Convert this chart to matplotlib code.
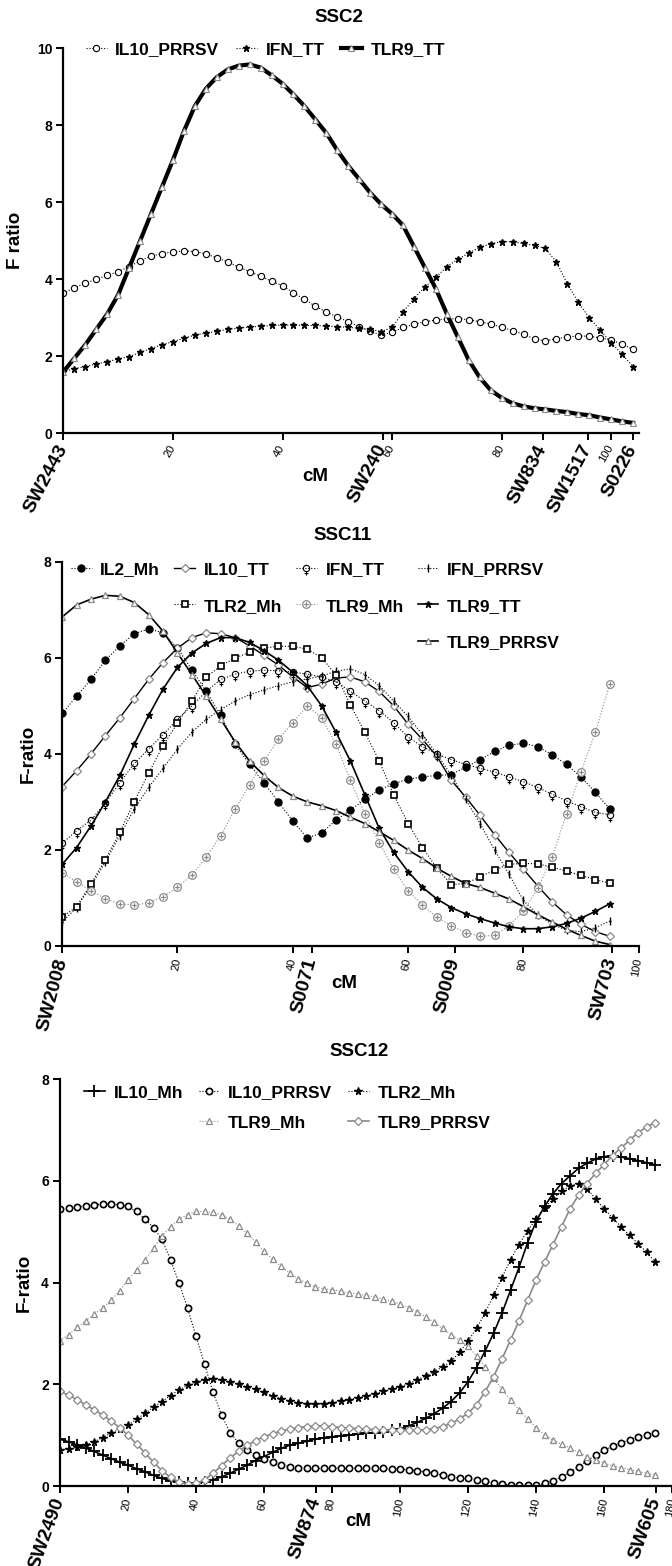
import matplotlib
matplotlib.use('Agg')
import matplotlib.pyplot as plt
from matplotlib.path import Path
from matplotlib.lines import Line2D

plt.rcParams['font.family'] = ['Liberation Sans', 'DejaVu Sans']
plt.rcParams['font.weight'] = 'bold'

# ---------------- SSC2 ----------------
ssc2_cm = list(range(0, 105, 2))
ssc2_il10_prrsv = [3.64, 3.78, 3.9, 4.0, 4.1, 4.2, 4.33, 4.48, 4.6, 4.67,
                   4.71, 4.74, 4.72, 4.66, 4.56, 4.45, 4.32, 4.2, 4.08, 3.95,
                   3.83, 3.65, 3.48, 3.3, 3.15, 3.02, 2.9, 2.77, 2.65, 2.55,
                   2.62, 2.75, 2.83, 2.9, 2.94, 2.97, 2.98, 2.95, 2.9, 2.84,
                   2.75, 2.67, 2.57, 2.45, 2.4, 2.46, 2.5, 2.53, 2.52, 2.48,
                   2.42, 2.32, 2.18]
ssc2_ifn_tt = [1.6, 1.68, 1.73, 1.8, 1.86, 1.93, 1.99, 2.1, 2.2, 2.3,
               2.38, 2.47, 2.55, 2.6, 2.65, 2.7, 2.73, 2.76, 2.78, 2.8,
               2.81, 2.81, 2.8, 2.8, 2.78, 2.77, 2.75, 2.73, 2.7, 2.64,
               2.75, 3.15, 3.5, 3.8, 4.05, 4.33, 4.52, 4.68, 4.83, 4.92,
               4.98, 4.97, 4.93, 4.88, 4.8, 4.45, 3.88, 3.4, 3.0, 2.68,
               2.35, 2.05, 1.73]
ssc2_tlr9_tt = [1.6, 1.95, 2.3, 2.7, 3.1, 3.6, 4.3, 5.0, 5.7, 6.4,
                7.1, 7.85, 8.5, 8.95, 9.25, 9.45, 9.55, 9.58, 9.5, 9.3,
                9.08, 8.8, 8.5, 8.15, 7.8, 7.35, 6.95, 6.6, 6.25, 5.95,
                5.7, 5.4, 4.85, 4.3, 3.75, 3.1, 2.5, 1.9, 1.45, 1.12,
                0.92, 0.78, 0.7, 0.65, 0.62, 0.58, 0.55, 0.5, 0.47, 0.41,
                0.36, 0.31, 0.27]
ssc2_num_ticks = [20, 40, 60, 80, 100]
ssc2_markers = ['SW2443', 'SW240', 'SW834', 'SW1517', 'S0226']
ssc2_marker_cm = [0, 58.3, 87.5, 95.7, 104]

# ---------------- SSC11 ----------------
ssc11_cm = [i * 2.5 for i in range(39)]
ssc11_il2_mh = [4.84, 5.2, 5.55, 5.95, 6.25, 6.5, 6.6, 6.52, 6.2, 5.75,
                5.3, 4.8, 4.2, 3.78, 3.4, 3.0, 2.6, 2.25, 2.35, 2.62,
                2.83, 3.05, 3.25, 3.38, 3.47, 3.52, 3.55, 3.57, 3.72, 3.88,
                4.05, 4.18, 4.22, 4.15, 3.98, 3.78, 3.52, 3.2, 2.85]
ssc11_il10_tt = [3.32, 3.65, 4.0, 4.38, 4.75, 5.15, 5.55, 5.9, 6.2, 6.42,
                 6.52, 6.5, 6.42, 6.25, 6.05, 5.85, 5.6, 5.38, 5.45, 5.58,
                 5.6, 5.5, 5.3, 5.0, 4.62, 4.3, 3.95, 3.45, 3.1, 2.72,
                 2.32, 1.95, 1.6, 1.25, 0.92, 0.65, 0.45, 0.3, 0.2]
ssc11_ifn_tt = [2.14, 2.4, 2.62, 2.98, 3.4, 3.8, 4.1, 4.4, 4.72, 5.0,
                5.3, 5.55, 5.66, 5.72, 5.74, 5.73, 5.7, 5.66, 5.6, 5.5,
                5.3, 5.1, 4.9, 4.65, 4.35, 4.15, 4.0, 3.88, 3.78, 3.7,
                3.62, 3.52, 3.42, 3.3, 3.16, 3.02, 2.9, 2.78, 2.73]
ssc11_ifn_prrsv = [0.5, 0.8, 1.25, 1.75, 2.3, 2.85, 3.3, 3.7, 4.1, 4.45,
                   4.72, 4.92, 5.1, 5.23, 5.33, 5.42, 5.5, 5.56, 5.62, 5.72,
                   5.77, 5.65, 5.42, 5.1, 4.78, 4.4, 4.0, 3.55, 3.05, 2.55,
                   2.0, 1.5, 0.95, 0.65, 0.45, 0.33, 0.3, 0.38, 0.52]
ssc11_tlr2_mh = [0.6, 0.82, 1.3, 1.8, 2.37, 3.0, 3.6, 4.17, 4.64, 5.1,
                 5.6, 5.83, 6.0, 6.11, 6.2, 6.24, 6.24, 6.18, 6.0, 5.65,
                 5.02, 4.45, 3.85, 3.15, 2.55, 2.05, 1.62, 1.28, 1.3, 1.44,
                 1.58, 1.7, 1.72, 1.71, 1.64, 1.56, 1.47, 1.38, 1.31]
ssc11_tlr9_mh = [1.53, 1.33, 1.15, 0.98, 0.88, 0.85, 0.9, 1.03, 1.22, 1.48,
                 1.85, 2.3, 2.85, 3.35, 3.85, 4.3, 4.65, 5.0, 4.75, 4.2,
                 3.45, 2.75, 2.15, 1.6, 1.15, 0.85, 0.6, 0.42, 0.28, 0.2,
                 0.22, 0.42, 0.72, 1.2, 1.85, 2.75, 3.62, 4.45, 5.45]
ssc11_tlr9_tt = [1.7, 2.05, 2.5, 3.0, 3.55, 4.2, 4.8, 5.35, 5.8, 6.1,
                 6.3, 6.42, 6.42, 6.32, 6.15, 5.95, 5.7, 5.42, 5.0, 4.45,
                 3.85, 3.15, 2.45, 1.95, 1.55, 1.22, 0.98, 0.8, 0.67, 0.57,
                 0.48, 0.4, 0.36, 0.36, 0.4, 0.47, 0.58, 0.72, 0.88]
ssc11_tlr9_prrsv = [6.85, 7.1, 7.22, 7.3, 7.28, 7.15, 6.9, 6.55, 6.1, 5.65,
                    5.2, 4.72, 4.25, 3.85, 3.55, 3.3, 3.12, 3.0, 2.92, 2.82,
                    2.68, 2.55, 2.38, 2.2, 2.0, 1.82, 1.62, 1.45, 1.3, 1.22,
                    1.1, 0.98, 0.82, 0.65, 0.5, 0.35, 0.22, 0.1, 0.03]
ssc11_num_ticks = [20, 40, 60, 80, 100]
ssc11_markers = ['SW2008', 'S0071', 'S0009', 'SW703']
ssc11_marker_cm = [0, 43.3, 68.1, 95.3]

# ---------------- SSC12 ----------------
ssc12_cm = [i * 2.5 for i in range(71)]
ssc12_il10_mh = [0.92, 0.87, 0.81, 0.75, 0.68, 0.61, 0.54, 0.47, 0.41, 0.34,
                 0.28, 0.21, 0.15, 0.1, 0.07, 0.05, 0.05, 0.08, 0.12, 0.18,
                 0.25, 0.33, 0.41, 0.5, 0.58, 0.66, 0.74, 0.8, 0.84, 0.88,
                 0.92, 0.95, 0.97, 0.99, 1.0, 1.02, 1.04, 1.05, 1.07, 1.1,
                 1.13, 1.18, 1.25, 1.33, 1.42, 1.53, 1.66, 1.83, 2.05, 2.33,
                 2.65, 3.0, 3.4, 3.85, 4.3, 4.78, 5.2, 5.5, 5.75, 5.95,
                 6.1, 6.25, 6.35, 6.43, 6.48, 6.49, 6.47, 6.44, 6.4, 6.36,
                 6.32]
ssc12_il10_prrsv = [5.45, 5.47, 5.49, 5.51, 5.53, 5.55, 5.55, 5.53, 5.5, 5.4,
                    5.25, 5.08, 4.85, 4.45, 4.0, 3.5, 2.95, 2.4, 1.85, 1.4,
                    1.05, 0.85, 0.71, 0.61, 0.54, 0.47, 0.41, 0.38, 0.36, 0.35,
                    0.35, 0.35, 0.35, 0.35, 0.35, 0.35, 0.35, 0.35, 0.35, 0.34,
                    0.33, 0.32, 0.3, 0.28, 0.25, 0.21, 0.18, 0.16, 0.15, 0.12,
                    0.09, 0.06, 0.04, 0.02, 0.01, 0.01, 0.02, 0.05, 0.1, 0.18,
                    0.27, 0.38, 0.5, 0.6, 0.7, 0.78, 0.85, 0.91, 0.96, 1.01,
                    1.05]
ssc12_tlr2_mh = [0.7, 0.72, 0.76, 0.81, 0.87, 0.95, 1.04, 1.12, 1.2, 1.31,
                 1.43, 1.55, 1.66, 1.78, 1.89, 1.98, 2.05, 2.09, 2.1, 2.08,
                 2.05, 2.0, 1.95, 1.9, 1.84, 1.78, 1.72, 1.67, 1.64, 1.62,
                 1.61, 1.62, 1.64, 1.67, 1.7, 1.73, 1.77, 1.81, 1.86, 1.9,
                 1.95, 2.01, 2.09, 2.16, 2.25, 2.34, 2.45, 2.63, 2.85, 3.1,
                 3.4, 3.75, 4.1, 4.45, 4.75, 5.02, 5.25, 5.47, 5.65, 5.8,
                 5.9, 5.95, 5.85, 5.65, 5.45, 5.28, 5.1, 4.93, 4.77, 4.6,
                 4.41]
ssc12_tlr9_mh = [2.85, 2.98, 3.12, 3.25, 3.38, 3.5, 3.65, 3.84, 4.05, 4.25,
                 4.45, 4.68, 4.92, 5.1, 5.25, 5.34, 5.4, 5.4, 5.38, 5.33,
                 5.25, 5.12, 4.97, 4.8, 4.62, 4.46, 4.32, 4.19, 4.08, 3.99,
                 3.92, 3.88, 3.86, 3.83, 3.8, 3.78, 3.75, 3.72, 3.68, 3.63,
                 3.58, 3.51, 3.43, 3.33, 3.22, 3.1, 2.98, 2.87, 2.75, 2.56,
                 2.35, 2.12, 1.9, 1.7, 1.5, 1.32, 1.15, 1.01, 0.9, 0.82,
                 0.75, 0.66, 0.58, 0.51, 0.45, 0.4, 0.36, 0.32, 0.29, 0.25,
                 0.22]
ssc12_tlr9_prrsv = [1.86, 1.79, 1.7, 1.6, 1.5, 1.4, 1.28, 1.15, 1.0, 0.83,
                    0.65, 0.47, 0.3, 0.17, 0.08, 0.04, 0.05, 0.12, 0.25, 0.4,
                    0.55, 0.68, 0.8, 0.89, 0.97, 1.03, 1.08, 1.12, 1.15, 1.17,
                    1.18, 1.18, 1.17, 1.15, 1.14, 1.13, 1.12, 1.11, 1.1, 1.1,
                    1.1, 1.1, 1.1, 1.11, 1.13, 1.17, 1.23, 1.32, 1.43, 1.6,
                    1.85, 2.15, 2.5, 2.87, 3.25, 3.65, 4.05, 4.4, 4.75, 5.1,
                    5.45, 5.72, 5.95, 6.15, 6.32, 6.5, 6.65, 6.8, 6.95, 7.06,
                    7.15]
ssc12_num_ticks = [20, 40, 60, 80, 100, 120, 140, 160, 180]
ssc12_markers = ['SW2490', 'SW874', 'SW605']
ssc12_marker_cm = [0, 75.3, 175.4]

GREY = '#8a8a8a'
W, H = 672, 1566

# custom markers: circle with a cross below, circle with a plus inside, tall plus
venus = Path.make_compound_path(
    Path.circle((0, 0), 0.5),
    Path([(0, -0.5), (0, -1.1), (-0.3, -0.8), (0.3, -0.8)],
         [Path.MOVETO, Path.LINETO, Path.MOVETO, Path.LINETO]))
oplus = Path.make_compound_path(
    Path.circle((0, 0), 1.0),
    Path([(0, -0.6), (0, 0.6), (-0.6, 0), (0.6, 0)],
         [Path.MOVETO, Path.LINETO, Path.MOVETO, Path.LINETO]))
tallplus = Path([(0, -1), (0, 1), (-0.35, 0), (0.35, 0)],
                [Path.MOVETO, Path.LINETO, Path.MOVETO, Path.LINETO])

fig = plt.figure(figsize=(W / 100, H / 100), dpi=100)


def px_axes(left, right, top, bottom):
    return fig.add_axes([left / W, 1 - bottom / H, (right - left) / W, (bottom - top) / H])


def style(ax, xmax, ymax, ystep, num_ticks, marker_cm, markers, num_rot, name_rot):
    ax.set_xlim(0, xmax)
    ax.set_ylim(0, ymax)
    for s in ['top', 'right']:
        ax.spines[s].set_visible(False)
    for s in ['left', 'bottom']:
        ax.spines[s].set_linewidth(1.6)
    ax.set_yticks(range(0, ymax + 1, ystep))
    ax.set_yticklabels([str(v) for v in range(0, ymax + 1, ystep)], fontsize=10, fontweight='bold')
    ax.set_xticks(num_ticks)
    ax.set_xticklabels([str(t) for t in num_ticks], rotation=num_rot, fontsize=8,
                       fontweight='normal', ha='right', va='center', rotation_mode='anchor')
    ax.set_xticks(marker_cm, minor=True)
    ax.set_xticklabels(markers, minor=True, rotation=name_rot, fontsize=14,
                       fontweight='bold', ha='right', va='center', rotation_mode='anchor')
    ax.tick_params(which='both', direction='out', length=5, width=1.4, pad=3)
    ax.tick_params(axis='x', which='both', pad=4)


blank = Line2D([], [], ls='none', label='')

# ---------------- panel 1 ----------------
ax1 = px_axes(63.4, 638.6, 48.3, 433.3)
l1, = ax1.plot(ssc2_cm, ssc2_il10_prrsv, ls=':', lw=0.8, color='black', marker='o', ms=4.5,
               mfc='white', mec='black', mew=0.8, label='IL10_PRRSV')
l2, = ax1.plot(ssc2_cm, ssc2_ifn_tt, ls=':', lw=0.8, color='black', marker='*', ms=5,
               mec='black', mfc='black', label='IFN_TT')
l3, = ax1.plot(ssc2_cm, ssc2_tlr9_tt, ls='-', lw=3, color='black', marker='^', ms=4.5,
               mfc='white', mec=GREY, mew=0.8, label='TLR9_TT')
style(ax1, 105, 10, 2, ssc2_num_ticks, ssc2_marker_cm, ssc2_markers, 60, 62)
ax1.set_ylabel('F ratio', fontsize=13.5, fontweight='bold')
ax1.yaxis.set_label_coords(-0.0685, 0.5)
ax1.set_xlabel('cM', fontsize=13.5, fontweight='bold')
ax1.xaxis.set_label_coords(0.4375, -35 / 385)
ax1.legend(handles=[l1, l2, l3], ncol=3, loc='upper left', bbox_to_anchor=(0.039, 1.016),
           frameon=False, fontsize=12.5, handlelength=1.2, handletextpad=0.5,
           columnspacing=0.95, borderpad=0, borderaxespad=0, numpoints=1)
fig.text(339 / W, 1 - 18 / H, 'SSC2', ha='center', va='center', fontsize=13.5, fontweight='bold')

# ---------------- panel 2 ----------------
ax2 = px_axes(62.2, 638.6, 561.7, 946)
h_il2, = ax2.plot(ssc11_cm, ssc11_il2_mh, ls=':', lw=0.8, color='black', marker='o', ms=5,
                  mfc='black', mec='black', label='IL2_Mh')
h_il10, = ax2.plot(ssc11_cm, ssc11_il10_tt, ls='-', lw=1.0, color='black', marker='D', ms=4,
                   mfc='white', mec=GREY, mew=0.9, label='IL10_TT')
h_ifn, = ax2.plot(ssc11_cm, ssc11_ifn_tt, ls=':', lw=0.8, color='black', marker=venus, ms=10,
                  mfc='none', mec='black', mew=0.8, label='IFN_TT')
h_ifnp, = ax2.plot(ssc11_cm, ssc11_ifn_prrsv, ls=':', lw=0.8, color='black', marker=tallplus,
                   ms=6, mec='black', mew=1.0, label='IFN_PRRSV')
h_tlr2, = ax2.plot(ssc11_cm, ssc11_tlr2_mh, ls=':', lw=0.8, color='black', marker='s', ms=4,
                   mfc='white', mec='black', mew=1.2, label='TLR2_Mh')
h_tlr9m, = ax2.plot(ssc11_cm, ssc11_tlr9_mh, ls=':', lw=0.8, color=GREY, marker=oplus, ms=5.5,
                    mfc='white', mec=GREY, mew=0.9, label='TLR9_Mh')
h_tlr9t, = ax2.plot(ssc11_cm, ssc11_tlr9_tt, ls='-', lw=1.2, color='black', marker='*', ms=5,
                    mfc='black', mec='black', label='TLR9_TT')
h_tlr9p, = ax2.plot(ssc11_cm, ssc11_tlr9_prrsv, ls='-', lw=1.2, color='black', marker='^', ms=5,
                    mfc='white', mec=GREY, mew=0.9, label='TLR9_PRRSV')
style(ax2, 100, 8, 2, ssc11_num_ticks, ssc11_marker_cm, ssc11_markers, 80, 75)
ax2.set_ylabel('F-ratio', fontsize=13.5, fontweight='bold')
ax2.yaxis.set_label_coords(-0.045, 0.5)
ax2.set_xlabel('cM', fontsize=13.5, fontweight='bold')
ax2.xaxis.set_label_coords(0.49, -29 / 384)
ax2.legend(handles=[h_il2, blank, blank, h_il10, h_tlr2, blank,
                    h_ifn, h_tlr9m, blank, h_ifnp, h_tlr9t, h_tlr9p],
           ncol=4, loc='upper left', bbox_to_anchor=(0.015, 0.999), frameon=False,
           fontsize=12.5, handlelength=1.2, handletextpad=0.5, columnspacing=0.8,
           labelspacing=1.22, borderpad=0, borderaxespad=0, numpoints=1)
fig.text(343 / W, 1 - 535 / H, 'SSC11', ha='center', va='center', fontsize=13.5, fontweight='bold')

# ---------------- panel 3 ----------------
ax3 = px_axes(60, 672, 1079.3, 1486)
k_il10m, = ax3.plot(ssc12_cm, ssc12_il10_mh, ls='-', lw=1.2, color='black', marker='+', ms=8,
                    mew=1.3, mec='black', label='IL10_Mh')
k_il10p, = ax3.plot(ssc12_cm, ssc12_il10_prrsv, ls=':', lw=0.8, color='black', marker='o', ms=4.5,
                    mfc='white', mec='black', mew=1.2, label='IL10_PRRSV')
k_tlr2, = ax3.plot(ssc12_cm, ssc12_tlr2_mh, ls=':', lw=0.8, color='black', marker='*', ms=5.5,
                   mfc='black', mec='black', label='TLR2_Mh')
k_tlr9m, = ax3.plot(ssc12_cm, ssc12_tlr9_mh, ls=':', lw=0.8, color=GREY, marker='^', ms=5,
                    mfc='white', mec=GREY, mew=0.9, label='TLR9_Mh')
k_tlr9p, = ax3.plot(ssc12_cm, ssc12_tlr9_prrsv, ls='-', lw=1.2, color=GREY, marker='D', ms=4.5,
                    mfc='white', mec=GREY, mew=0.9, label='TLR9_PRRSV')
style(ax3, 180, 8, 2, ssc12_num_ticks, ssc12_marker_cm, ssc12_markers, 80, 70)
ax3.set_ylabel('F-ratio', fontsize=13.5, fontweight='bold')
ax3.yaxis.set_label_coords(-0.044, 0.5)
ax3.set_xlabel('cM', fontsize=13.5, fontweight='bold')
ax3.xaxis.set_label_coords(0.487, -27 / 407)
ax3.legend(handles=[k_il10m, blank, k_il10p, k_tlr9m, k_tlr2, k_tlr9p],
           ncol=3, loc='upper left', bbox_to_anchor=(0.039, 0.986), frameon=False,
           fontsize=12.5, handlelength=1.2, handletextpad=0.5, columnspacing=0.9,
           labelspacing=0.86, borderpad=0, borderaxespad=0, numpoints=1)
fig.text(359 / W, 1 - 1052 / H, 'SSC12', ha='center', va='center', fontsize=13.5, fontweight='bold')

fig.savefig('out.png', dpi=100)
